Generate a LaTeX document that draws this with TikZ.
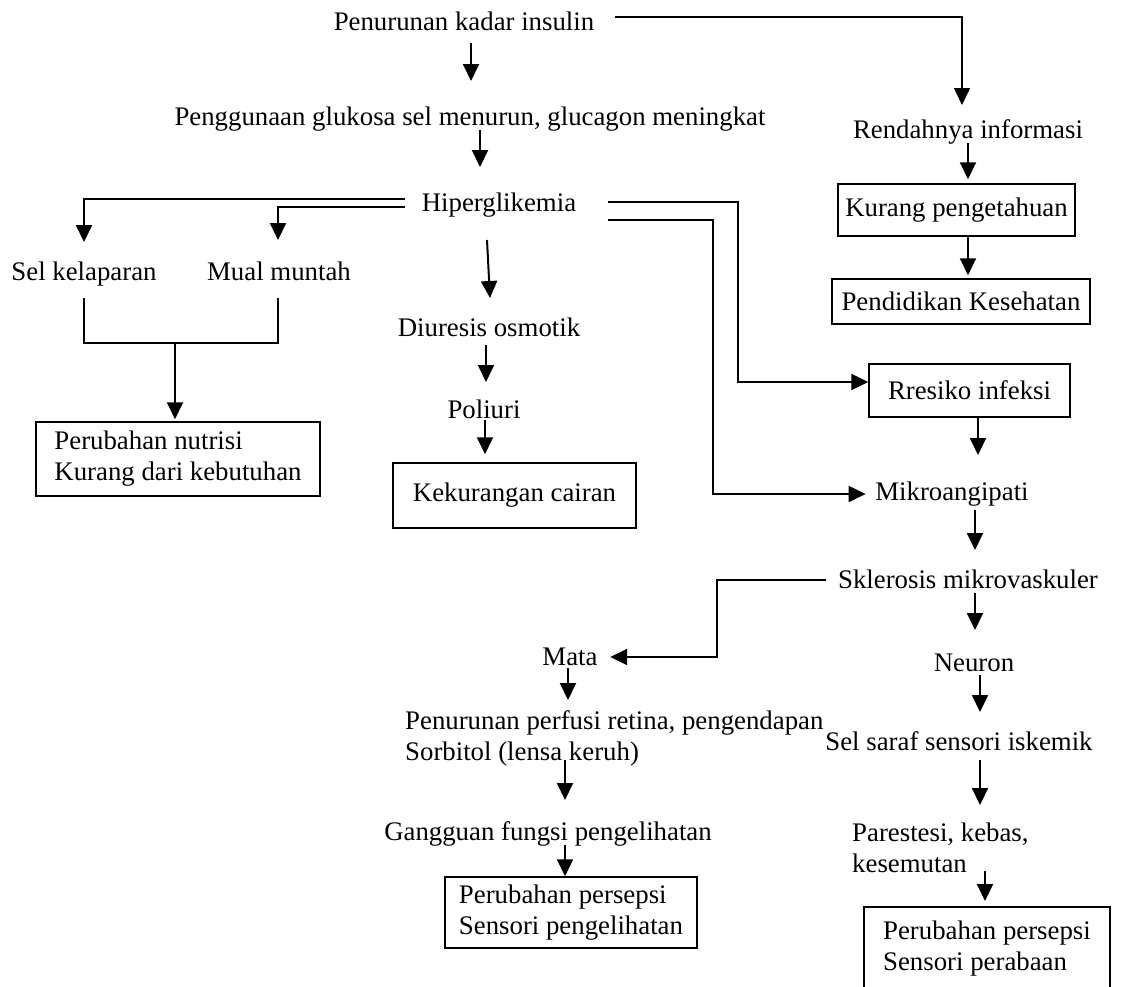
\documentclass[tikz,border=0pt]{standalone}
\usepackage{fontspec}
\setmainfont{Liberation Serif}
\usetikzlibrary{arrows.meta}
\begin{document}
\begin{tikzpicture}[x=1pt,y=-1pt,
  every node/.style={font=\fontsize{26.8}{31}\selectfont, inner sep=0pt},
  txt/.style={anchor=base},
  box/.style={draw, line width=1.5pt},
  arr/.style={line width=2pt, -{Triangle[width=16pt,length=17pt]}},
  thinarr/.style={line width=1.6pt, -{Triangle[width=16pt,length=17pt]}},
  brk/.style={line width=1.2pt},
]
\useasboundingbox (0,0) rectangle (1133,986);
\clip (0,0) rectangle (1133,986);

% text nodes
\node[txt] (ins) at (464,30) {Penurunan kadar insulin};
\node[txt] (gluc) at (470,125) {Penggunaan glukosa sel menurun, glucagon meningkat};
\node[txt] (hip) at (499,211) {Hiperglikemia};
\node[txt] (ren) at (968,138) {Rendahnya informasi};
\node[txt] (sel) at (84,280) {Sel kelaparan};
\node[txt] (mual) at (279,280) {Mual muntah};
\node[txt] (diu) at (489,336) {Diuresis osmotik};
\node[txt] (pol) at (484,418) {Poliuri};
\node[txt] (mik) at (952,500) {Mikroangipati};
\node[txt] (skl) at (968,588) {Sklerosis mikrovaskuler};
\node[txt] (mata) at (570,665) {Mata};
\node[anchor=north west, align=left] (perf) at (405,710) {Penurunan perfusi retina, pengendapan\\Sorbitol (lensa keruh)};
\node[txt] (gang) at (548,840) {Gangguan fungsi pengelihatan};
\node[txt] (neu) at (974,671) {Neuron};
\node[txt] (ssi) at (959,750) {Sel saraf sensori iskemik};
\node[anchor=north west, align=left] (par) at (852,823) {Parestesi, kebas,\\kesemutan};

% boxes
\node[box, minimum width=237pt, minimum height=52pt] (kp) at (956.5,210) {Kurang pengetahuan};
\node[box, minimum width=258pt, minimum height=45pt] (pk) at (961,301.5) {Pendidikan Kesehatan};
\node[box, minimum width=284pt, minimum height=74pt, align=left] (nut) at (178,459) {Perubahan nutrisi\\Kurang dari kebutuhan};
\node[box, minimum width=243pt, minimum height=65pt] (kc) at (514.5,495.5) {Kekurangan cairan};
\node[box, minimum width=201pt, minimum height=53pt] (ri) at (969.5,390.5) {Rresiko infeksi};
\node[box, minimum width=252pt, minimum height=71pt, align=left] (pp) at (571,912.5) {Perubahan persepsi\\Sensori pengelihatan};
\node[box, anchor=north, minimum width=246pt, minimum height=83pt, align=left] (pr) at (987,906) {Perubahan persepsi\\Sensori perabaan};

\coordinate (join) at (175,343);

% main column
\draw[arr] ([xshift=7pt,yshift=-13pt]ins.base) -- ([xshift=1pt,yshift=44pt]gluc.base);
\draw[arr] ([xshift=10pt,yshift=-5pt]gluc.base) -- ([xshift=-19pt,yshift=44pt]hip.base);
\draw[arr] ([xshift=-12pt,yshift=-29pt]hip.base) -- ([xshift=1pt,yshift=38pt]diu.base);
\draw[arr] ([xshift=-3pt,yshift=-9pt]diu.base) -- ([xshift=2pt,yshift=36pt]pol.base);
\draw[arr] ([xshift=1pt,yshift=-2pt]pol.base) -- ([xshift=-29.5pt,yshift=8pt]kc.north);

% insulin -> informasi
\draw[thinarr] ([xshift=21pt,yshift=13pt]ins.base east) -| ([xshift=-6pt,yshift=33pt]ren.base);
\draw[arr] ([yshift=-5pt]ren.base) -- ([xshift=11.5pt,yshift=4pt]kp.north);
\draw[arr] ([xshift=11.5pt]kp.south) -- ([xshift=7pt,yshift=3pt]pk.north);

% hiperglikemia left branches
\draw[arr, line width=2.2pt] ([xshift=-17pt,yshift=12pt]hip.base west) -| ([yshift=38pt]sel.base);
\draw[arr, line width=2.2pt] ([xshift=-17pt,yshift=4pt]hip.base west) -| ([xshift=-1pt,yshift=40pt]mual.base);
\draw[brk] ([yshift=-18pt]sel.base) -- ++(0,45) -| ([xshift=-1pt,yshift=-18pt]mual.base);
\draw[arr] (join) -- ([xshift=-3pt,yshift=2pt]nut.north);

% hiperglikemia right branches
\draw[arr, line width=2.2pt] ([xshift=32pt,yshift=9pt]hip.base east) -- ++(130,0) |- ([yshift=8.5pt]ri.west);
\draw[arr, line width=2pt] ([xshift=32pt,yshift=-9pt]hip.base east) -- ++(105,0) |- ([xshift=-9.5pt,yshift=6pt]mik.base west);

% right column
\draw[arr] ([xshift=8.5pt]ri.south) -- ([xshift=26pt,yshift=45pt]mik.base);
\draw[arr] ([xshift=23pt,yshift=-10pt]mik.base) -- ([xshift=7pt,yshift=38pt]skl.base);
\draw[arr] ([xshift=-12pt,yshift=8pt]skl.base west) -- ++(-109,0) |- ([xshift=12.5pt,yshift=8pt]mata.base east);
\draw[arr] ([xshift=7pt,yshift=-5pt]skl.base) -- ([xshift=1pt,yshift=41pt]neu.base);
\draw[arr] ([xshift=6pt,yshift=-4pt]neu.base) -- ([xshift=21pt,yshift=38pt]ssi.base);
\draw[arr] ([xshift=21pt,yshift=-10pt]ssi.base) -- ([xshift=128pt,yshift=18pt]par.north west);
\draw[arr] ([xshift=133pt,yshift=-48pt]par.north west) -- ([xshift=-2pt,yshift=5pt]pr.north);

% eye column
\draw[arr] ([xshift=-2pt,yshift=-3pt]mata.base) -- ([xshift=163pt,yshift=10pt]perf.north west);
\draw[arr] ([xshift=160pt,yshift=-50pt]perf.north west) -- ([xshift=17pt,yshift=40pt]gang.base);
\draw[arr] ([xshift=17pt,yshift=-5pt]gang.base) -- ([xshift=-6pt]pp.north);
\end{tikzpicture}
\end{document}
